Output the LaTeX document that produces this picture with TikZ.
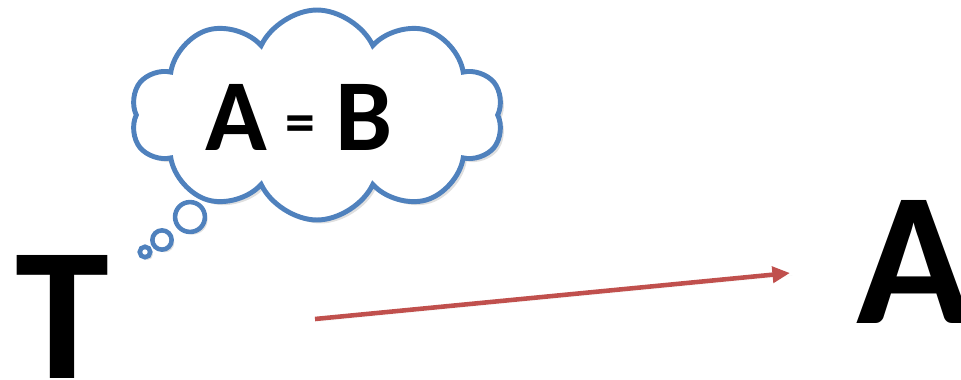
\documentclass[tikz,border=0pt]{standalone}
\usepackage{fontspec}
\setmainfont{Carlito}
\usepackage{tikz}
\usetikzlibrary{positioning, arrows.meta, shapes.symbols, shadows}

\definecolor{CloudBlue}{RGB}{79,129,189}
\definecolor{ArrRed}{RGB}{192,80,77}

\begin{document}
\begin{tikzpicture}[
    x=0.02cm, y=-0.02cm,
    bigletter/.style={inner sep=0, anchor=base, font=\fontsize{108}{108}\selectfont\bfseries},
    thought/.style={cloud, cloud puffs=10, cloud puff arc=130, cloud ignores aspect, draw=CloudBlue, line width=2.8pt, fill=white,
        minimum width=7.45cm, minimum height=4.2cm, drop shadow={opacity=0.25, shadow xshift=2pt, shadow yshift=-2pt}},
    bubble/.style={circle, draw=CloudBlue, line width=2.6pt, fill=white, inner sep=0,
        drop shadow={opacity=0.25, shadow xshift=1.5pt, shadow yshift=-1.5pt}},
    arr/.style={-{Triangle[length=10pt, width=9pt]}, draw=ArrRed, line width=2.6pt,
        drop shadow={opacity=0.25, shadow xshift=1.5pt, shadow yshift=-1.5pt}}
]
\useasboundingbox (0,0) rectangle (961,379);
\clip (0,0) rectangle (961,379);

\node[bigletter] (t) at (62,378) {T};
\node[bigletter] (a) at (914,323) {A};

\node[bubble, minimum size=17pt] (b1) at (190,217) {};
\node[bubble, minimum size=11pt] (b2) at (162,240) {};
\node[bubble, minimum size=6pt] (b3) at (145,252) {};
\node[thought] (cloud) at (317,115) {};
\node[inner sep=0, anchor=base, font=\fontsize{58}{58}\selectfont\bfseries] (eq) at (299,150)
    {A\hspace{0.18em}\raisebox{4pt}{\fontsize{34}{34}\selectfont =}\hspace{0.2em}B};

\coordinate (arrS) at (315,319);
\coordinate (arrE) at (790,273);
\draw[arr] (arrS) -- (arrE);
\end{tikzpicture}
\end{document}
